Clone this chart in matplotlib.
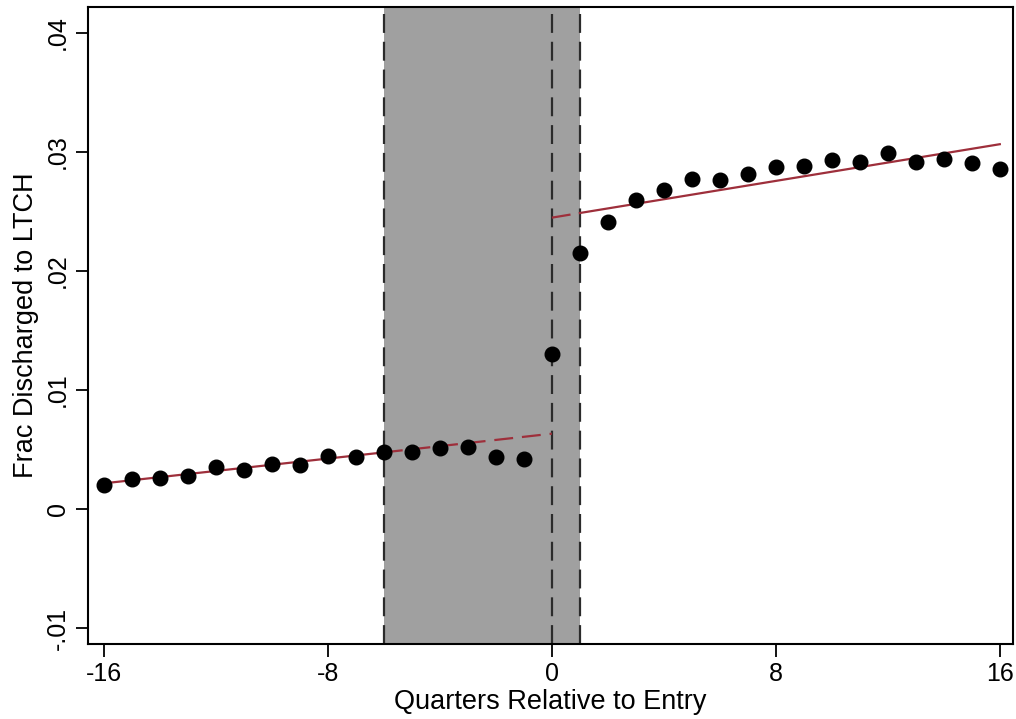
import numpy as np
import matplotlib
matplotlib.use("Agg")
import matplotlib.pyplot as plt

plt.rcParams['font.family'] = ['Liberation Sans', 'DejaVu Sans']

# binned means, quarters relative to entry
quarters = [-16, -15, -14, -13, -12, -11, -10, -9, -8, -7, -6, -5, -4, -3, -2, -1,
            0, 1, 2, 3, 4, 5, 6, 7, 8, 9, 10, 11, 12, 13, 14, 15, 16]
frac_ltch = [0.00202, 0.00252, 0.00260, 0.00277, 0.00356, 0.00330, 0.00375, 0.00370,
             0.00448, 0.00440, 0.00476, 0.00482, 0.00510, 0.00524, 0.00434, 0.00420,
             0.01300, 0.02148, 0.02415, 0.02594, 0.02680, 0.02773, 0.02765, 0.02815,
             0.02871, 0.02885, 0.02930, 0.02919, 0.02994, 0.02919, 0.02941, 0.02908,
             0.02857]

# fitted lines (endpoints)
pre_fit_x = [-16, -6, 0]
pre_fit_y = [0.00216, 0.00476, 0.00633]
post_fit_x = [0, 1, 16]
post_fit_y = [0.02448, 0.02487, 0.03065]

shade_lo, shade_hi = -6, 1
vlines = [-6, 0, 1]

xticks = [-16, -8, 0, 8, 16]
yticks = [-0.01, 0, 0.01, 0.02, 0.03, 0.04]
ytick_labels = ["-.01", "0", ".01", ".02", ".03", ".04"]

fig = plt.figure(figsize=(10.16, 7.19), dpi=100)
ax = fig.add_axes([0.0866, 0.1043, 0.9104, 0.886])

red = "#9e2f3b"
dash = (0, (8.5, 4))
ax.axvspan(shade_lo, shade_hi, color="#a0a0a0", lw=0, zorder=0)
for v in vlines:
    ax.axvline(v, color="#2b2b2b", lw=1.6, ls=dash, zorder=1)

ax.plot(pre_fit_x[:2], pre_fit_y[:2], color=red, lw=1.6, zorder=2)
ax.plot(pre_fit_x[1:], pre_fit_y[1:], color=red, lw=1.6, ls=dash, zorder=2)
ax.plot(post_fit_x[:2], post_fit_y[:2], color=red, lw=1.6, ls=dash, zorder=2)
ax.plot(post_fit_x[1:], post_fit_y[1:], color=red, lw=1.6, zorder=2)

ax.plot(quarters, frac_ltch, "o", color="black", ms=10.5, zorder=3)

ax.set_xlim(-16.57, 16.47)
ax.set_ylim(-0.01134, 0.04218)
ax.set_xticks(xticks)
ax.set_xticklabels([str(t) for t in xticks])
ax.set_yticks(yticks)
ax.set_yticklabels(ytick_labels, rotation=90, va="center")

ax.tick_params(direction="out", length=9, width=1.3, labelsize=18, pad=4)
for s in ax.spines.values():
    s.set_linewidth(1.5)

ax.set_xlabel("Quarters Relative to Entry", fontsize=19.5, labelpad=2)
ax.set_ylabel("Frac Discharged to LTCH", fontsize=19.5, labelpad=5)

fig.savefig("out.png", dpi=100)
